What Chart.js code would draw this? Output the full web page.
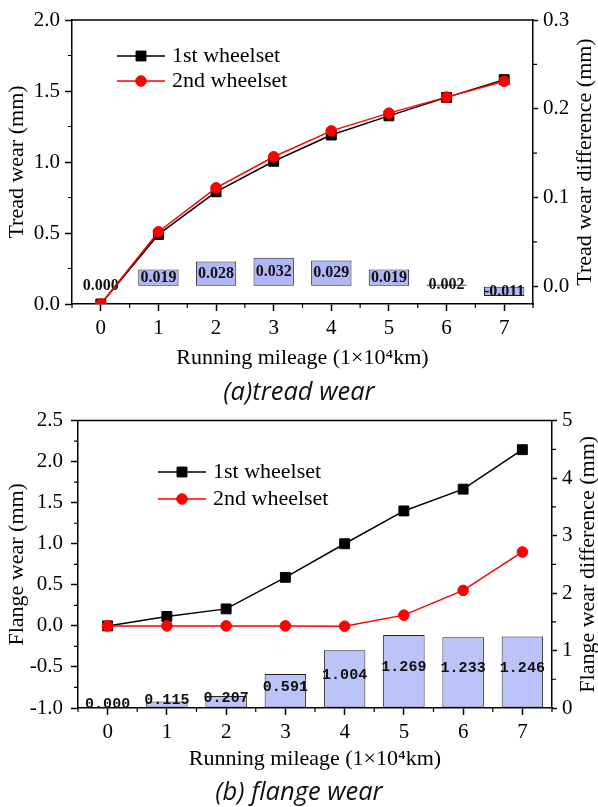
<!DOCTYPE html>
<html>
<head>
<meta charset="UTF-8">
<title>Tread and flange wear vs running mileage</title>
<script src="https://cdn.jsdelivr.net/npm/chart.js@4.4.1/dist/chart.umd.min.js"></script>
<style>
  body { margin: 0; background: #fff; width: 598px; height: 807px; position: relative; overflow: hidden; }
  .panel { position: absolute; left: 0; width: 598px; height: 375px; }
  .caption {
    position: absolute; left: 0; width: 598px; text-align: center;
    font-family: "Open Sans", "Noto Sans", sans-serif; font-style: italic;
    font-size: 25.5px; line-height: 30px; color: #111;
  }
</style>
</head>
<body>
<div class="panel" style="top:0"><canvas id="treadChart" width="598" height="375"></canvas></div>
<div class="caption" style="top:375px">(a)tread wear</div>
<div class="panel" style="top:400px"><canvas id="flangeChart" width="598" height="375"></canvas></div>
<div class="caption" style="top:775px">(b) flange wear</div>
<script>
// running mileage, 1x10^4 km
const mileage = ['0', '1', '2', '3', '4', '5', '6', '7'];

// tread wear (mm)
const treadFirst  = [0, 0.49, 0.79, 1.005, 1.19, 1.325, 1.455, 1.58];
const treadSecond = [0, 0.509, 0.818, 1.037, 1.219, 1.344, 1.457, 1.569];
const treadDiff   = [0.000, 0.019, 0.028, 0.032, 0.029, 0.019, 0.002, -0.011];

// flange wear (mm)
const flangeFirst  = [0, 0.115, 0.207, 0.591, 1.0, 1.40, 1.665, 2.146];
const flangeSecond = [0, 0, 0, 0, -0.004, 0.131, 0.432, 0.90];
const flangeDiff   = [0.000, 0.115, 0.207, 0.591, 1.004, 1.269, 1.233, 1.246];

const SERIF = '"Liberation Serif", "Times New Roman", serif';

// top frame line, minor ticks and the right-hand axis title (read bottom to top)
const axisExtras = {
  id: 'axisExtras',
  afterDraw(chart, args, opts) {
    const {ctx, chartArea: a, scales} = chart;
    ctx.save();
    ctx.strokeStyle = '#000';
    ctx.lineWidth = 1.5;
    ctx.beginPath();
    ctx.moveTo(a.left - 0.75, a.top);
    ctx.lineTo(a.right + 0.75, a.top);
    ctx.stroke();

    ctx.lineWidth = 1.2;
    ctx.beginPath();
    const x = scales.x;
    for (let i = -1; i < mileage.length; i++) {
      const px = (x.getPixelForValue(i) + x.getPixelForValue(i + 1)) / 2;
      ctx.moveTo(px, a.bottom);
      ctx.lineTo(px, a.bottom + 4);
    }
    [['y', opts.yMinor, a.left, -1], ['y1', opts.y1Minor, a.right, 1]].forEach(([id, step, edge, dir]) => {
      const s = scales[id];
      for (let k = Math.ceil(s.min / step - 1e-9); k * step <= s.max + 1e-9; k++) {
        if (k % 2 === 0) continue;
        const py = s.getPixelForValue(k * step);
        ctx.moveTo(edge, py);
        ctx.lineTo(edge + dir * 4, py);
      }
    });
    ctx.stroke();

    ctx.translate(opts.rightTitleX, (a.top + a.bottom) / 2);
    ctx.rotate(-Math.PI / 2);
    ctx.fillStyle = '#000';
    ctx.font = '22px ' + SERIF;
    ctx.textAlign = 'center';
    ctx.textBaseline = 'middle';
    ctx.fillText(opts.rightTitle, 0, 0);
    ctx.restore();
  }
};

// legend: short line with the marker in the middle, then the label
const lineLegend = {
  id: 'lineLegend',
  afterDraw(chart, args, opts) {
    const ctx = chart.ctx;
    ctx.save();
    chart.data.datasets.filter(d => d.type === 'line').forEach((d, i) => {
      const y = opts.y + i * opts.rowGap;
      ctx.strokeStyle = d.borderColor;
      ctx.lineWidth = d.borderWidth;
      ctx.beginPath();
      ctx.moveTo(opts.x, y);
      ctx.lineTo(opts.x + 48, y);
      ctx.stroke();
      ctx.fillStyle = d.pointBackgroundColor;
      ctx.strokeStyle = d.pointBorderColor;
      ctx.lineWidth = 1;
      Chart.helpers.drawPoint(ctx, {pointStyle: d.pointStyle, radius: d.pointRadius, rotation: 0, borderWidth: 1}, opts.x + 24, y);
      ctx.fillStyle = '#000';
      ctx.font = '22px ' + SERIF;
      ctx.textBaseline = 'middle';
      ctx.textAlign = 'left';
      ctx.fillText(d.label, opts.x + 55, y);
    });
    ctx.restore();
  }
};

// value written in the middle of each bar
const barValues = {
  id: 'barValues',
  afterDatasetDraw(chart, args, opts) {
    const ds = chart.data.datasets[args.index];
    if (ds.type !== 'bar') return;
    const ctx = chart.ctx;
    ctx.save();
    ctx.font = opts.font;
    ctx.fillStyle = '#111';
    ctx.textAlign = 'center';
    ctx.textBaseline = 'middle';
    args.meta.data.forEach((bar, i) => {
      const y = (bar.y + bar.base) / 2 + opts.shift;
      ctx.fillText(ds.data[i].toFixed(3), bar.x, y);
    });
    ctx.restore();
  }
};

function makeChart(id, p) {
  const tickFont = {family: SERIF, size: 21};
  const titleFont = {family: SERIF, size: 22, lineHeight: 1.2};
  const grid = {drawOnChartArea: false, drawTicks: true, tickLength: 7, tickColor: '#000', tickWidth: 1.5};
  const border = {display: true, color: '#000', width: 1.5};

  return new Chart(document.getElementById(id), {
    type: 'bar',
    data: {
      labels: mileage,
      datasets: [
        {
          type: 'line', label: '1st wheelset', data: p.first, yAxisID: 'y', order: 2,
          borderColor: '#000', borderWidth: 1.5, pointStyle: 'rect', pointRadius: 7,
          pointBackgroundColor: '#000', pointBorderColor: '#000', pointBorderWidth: 1
        },
        {
          type: 'line', label: '2nd wheelset', data: p.second, yAxisID: 'y', order: 1,
          borderColor: '#ff0000', borderWidth: 1.5, pointStyle: 'circle', pointRadius: 5.3,
          pointBackgroundColor: '#ff0000', pointBorderColor: '#ff0000', pointBorderWidth: 1
        },
        {
          type: 'bar', label: 'difference', data: p.diff, yAxisID: 'y1', order: 3,
          backgroundColor: p.barColor, borderColor: '#222', borderWidth: 1, borderSkipped: false,
          barPercentage: 0.7, categoryPercentage: 1
        }
      ]
    },
    options: {
      responsive: false,
      animation: false,
      layout: {padding: {top: p.top, left: 0, right: 0, bottom: 0}},
      plugins: {
        legend: {display: false},
        tooltip: {enabled: false},
        axisExtras: {yMinor: p.yStep / 2, y1Minor: p.y1Step / 2, rightTitle: p.y1Title, rightTitleX: p.rightTitleX},
        lineLegend: p.legend,
        barValues: p.labels
      },
      scales: {
        x: {
          offset: true,
          grid: Object.assign({}, grid, {offset: false}),
          border: border,
          ticks: {font: tickFont, color: '#000', padding: 5, maxRotation: 0},
          title: {display: true, text: 'Running mileage (1×10⁴km)', font: titleFont, color: '#000', padding: {top: 0, bottom: p.xTitlePad}},
          afterFit: s => { s.height = p.xHeight; }
        },
        y: {
          position: 'left',
          min: p.yMin, max: p.yMax,
          grid: grid,
          border: border,
          ticks: {stepSize: p.yStep, font: tickFont, color: '#000', padding: p.yPad, callback: v => v.toFixed(1)},
          title: {display: true, text: p.yTitle, font: titleFont, color: '#000', padding: {top: 4, bottom: 0}},
          afterFit: s => { s.width = p.leftWidth; }
        },
        y1: {
          position: 'right',
          min: p.y1Min, max: p.y1Max,
          grid: Object.assign({}, grid, {tickLength: 5}),
          border: border,
          ticks: {stepSize: p.y1Step, includeBounds: false, font: tickFont, color: '#000', padding: 5, callback: p.y1Format},
          title: {display: false},
          afterFit: s => { s.width = p.rightWidth; }
        }
      }
    },
    plugins: [barValues, axisExtras, lineLegend]
  });
}

makeChart('treadChart', {
  first: treadFirst, second: treadSecond, diff: treadDiff,
  barColor: '#b0b6f6',
  top: 20, leftWidth: 72, rightWidth: 65, xHeight: 71, xTitlePad: 4, yPad: 5,
  yMin: 0, yMax: 2, yStep: 0.5, yTitle: 'Tread wear (mm)',
  y1Min: -0.02, y1Max: 0.3, y1Step: 0.1, y1Title: 'Tread wear difference (mm)', rightTitleX: 585,
  y1Format: v => v.toFixed(1),
  legend: {x: 117, y: 56, rowGap: 25},
  labels: {font: 'bold 16px ' + SERIF, shift: 0}
});

makeChart('flangeChart', {
  first: flangeFirst, second: flangeSecond, diff: flangeDiff,
  barColor: '#bcc3f7',
  top: 17, leftWidth: 78, rightWidth: 46, xHeight: 67, xTitlePad: 3, yPad: 8,
  yMin: -1, yMax: 2.5, yStep: 0.5, yTitle: 'Flange wear (mm)',
  y1Min: 0, y1Max: 5, y1Step: 1, y1Title: 'Flange wear difference (mm)', rightTitleX: 588,
  y1Format: v => v.toFixed(0),
  legend: {x: 158, y: 72, rowGap: 27},
  labels: {font: 'bold 15px "Liberation Mono", monospace', shift: -4}
});
</script>
</body>
</html>
